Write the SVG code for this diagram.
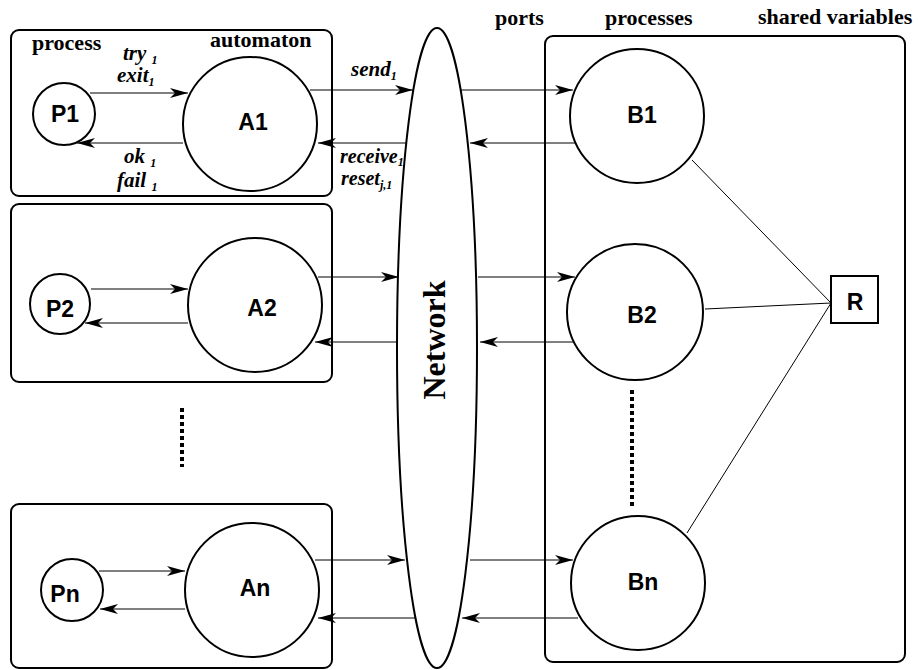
<svg xmlns="http://www.w3.org/2000/svg" width="920" height="670" viewBox="0 0 920 670">
<defs>
<marker id="ah" markerUnits="userSpaceOnUse" markerWidth="18" markerHeight="10" refX="18" refY="5" orient="auto" viewBox="0 0 18 10">
<path d="M0,0 L18,5 L0,10 L5,5 z" fill="#000"/>
</marker>
<style>
.box{fill:none;stroke:#000;stroke-width:2}
.node{fill:#fff;stroke:#000;stroke-width:2}
.conn{stroke:#000;stroke-width:1;fill:none}
.arr{stroke:#000;stroke-width:1;fill:none;marker-end:url(#ah)}
.dots{stroke:#000;stroke-width:4;stroke-dasharray:4 3;fill:none}
.hdr{font-family:"Liberation Serif",serif;font-weight:bold;font-size:22px}
.lab{font-family:"Liberation Serif",serif;font-weight:bold;font-style:italic;font-size:21px}
.lab2{font-family:"Liberation Serif",serif;font-weight:bold;font-style:italic;font-size:20px}
.sub{font-size:12px}
.nl{font-family:"Liberation Sans",Arial,sans-serif;font-weight:bold;font-size:23px;text-anchor:middle}
</style>
</defs>
<rect width="920" height="670" fill="#fff"/>

<g id="headers">
<text class="hdr" x="32" y="50">process</text>
<text class="hdr" x="210" y="47">automaton</text>
<text class="hdr" x="495" y="25">ports</text>
<text class="hdr" x="605" y="25">processes</text>
<text class="hdr" x="758" y="24">shared variables</text>
</g>

<g id="group1"><rect class="box" x="11" y="30" width="321" height="166" rx="8"/></g>
<g id="group2"><rect class="box" x="11" y="204" width="321" height="178" rx="8"/></g>
<g id="groupn"><rect class="box" x="11" y="504" width="321" height="164" rx="8"/></g>
<g id="groupB"><rect class="box" x="545" y="36" width="360" height="626" rx="8"/></g>

<g id="network">
<ellipse class="node" cx="437" cy="348" rx="40" ry="320"/>
<text x="445" y="340" transform="rotate(-90 445 340)" text-anchor="middle" font-family="Liberation Serif,serif" font-weight="bold" font-size="32">Network</text>
</g>

<g id="connectors">
<line class="arr" x1="90" y1="93" x2="188" y2="93"/>
<line class="arr" x1="183" y1="143" x2="77" y2="143"/>
<line class="arr" x1="310" y1="90" x2="413" y2="90"/>
<line class="arr" x1="407" y1="143" x2="318" y2="143"/>
<line class="arr" x1="91" y1="289" x2="188" y2="289"/>
<line class="arr" x1="188" y1="323" x2="85" y2="323"/>
<line class="arr" x1="318" y1="277" x2="399" y2="277"/>
<line class="arr" x1="397" y1="342" x2="315" y2="342"/>
<line class="arr" x1="99" y1="571" x2="185" y2="571"/>
<line class="arr" x1="185" y1="609" x2="100" y2="609"/>
<line class="arr" x1="315" y1="560" x2="405" y2="560"/>
<line class="arr" x1="415" y1="618" x2="318" y2="618"/>
<line class="arr" x1="460" y1="90" x2="573" y2="90"/>
<line class="arr" x1="575" y1="143" x2="470" y2="143"/>
<line class="arr" x1="478" y1="277" x2="575" y2="277"/>
<line class="arr" x1="573" y1="342" x2="480" y2="342"/>
<line class="arr" x1="470" y1="560" x2="573" y2="560"/>
<line class="arr" x1="578" y1="618" x2="462" y2="618"/>
<line class="conn" x1="692" y1="160" x2="831" y2="303"/>
<line class="conn" x1="705" y1="309" x2="831" y2="303"/>
<line class="conn" x1="687" y1="533" x2="831" y2="303"/>
<line class="dots" x1="182" y1="408" x2="182" y2="467"/>
<line class="dots" x1="632" y1="390" x2="632" y2="509"/>
</g>

<g id="labels">
<text class="lab" x="123" y="60">try <tspan class="sub" dy="4">1</tspan></text>
<text class="lab" x="117" y="82">exit<tspan class="sub" dy="4">1</tspan></text>
<text class="lab" x="124" y="163">ok <tspan class="sub" dy="4">1</tspan></text>
<text class="lab" x="117" y="187">fail <tspan class="sub" dy="4">1</tspan></text>
<text class="lab" x="351" y="76">send<tspan class="sub" dy="4">1</tspan></text>
<text class="lab2" x="340" y="163">receive<tspan class="sub" dy="3">1</tspan></text>
<text class="lab2" x="341" y="185">reset<tspan class="sub" dy="4">j,1</tspan></text>
</g>

<g id="P1"><circle class="node" cx="64" cy="114" r="31"/><text class="nl" x="65" y="122">P1</text></g>
<g id="A1"><circle class="node" cx="250" cy="124" r="67"/><text class="nl" x="253" y="130">A1</text></g>
<g id="P2"><circle class="node" cx="60" cy="304" r="30"/><text class="nl" x="60" y="317">P2</text></g>
<g id="A2"><circle class="node" cx="255" cy="305" r="67"/><text class="nl" x="262" y="316">A2</text></g>
<g id="Pn"><circle class="node" cx="72" cy="590" r="31"/><text class="nl" x="65" y="602">Pn</text></g>
<g id="An"><circle class="node" cx="252" cy="590" r="67"/><text class="nl" x="255" y="596">An</text></g>
<g id="B1"><circle class="node" cx="637" cy="116" r="67"/><text class="nl" x="642" y="123">B1</text></g>
<g id="B2"><circle class="node" cx="635" cy="312" r="68"/><text class="nl" x="642" y="323">B2</text></g>
<g id="Bn"><circle class="node" cx="638" cy="583" r="67"/><text class="nl" x="643" y="590">Bn</text></g>
<g id="R"><rect class="node" x="831" y="276" width="47" height="47"/><text class="nl" x="855" y="310">R</text></g>
</svg>
